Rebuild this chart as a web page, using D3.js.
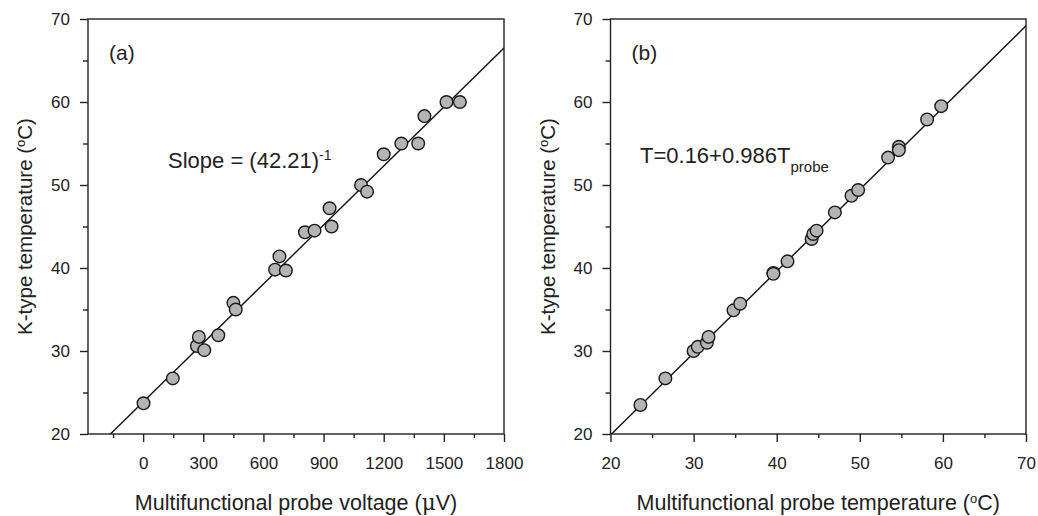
<!DOCTYPE html>
<html>
<head>
<meta charset="utf-8">
<script src="https://cdn.jsdelivr.net/npm/d3@7"></script>
<style>
  body { margin: 0; background: #fff; }
  svg { font-family: "Liberation Sans", Arial, sans-serif; }
  .axis path, .axis line { stroke: #222; stroke-width: 1.4; }
  .axis text { font-size: 17px; fill: #222; }
</style>
</head>
<body>
<div class="chart"></div>
<script>
// panel (a): probe voltage (uV) vs K-type temperature
const voltA = [2, 148, 268, 278, 305, 375, 450, 462, 658, 680, 712, 807, 855, 930, 940,
  1087, 1117, 1200, 1288, 1372, 1403, 1513, 1580];
const tempA = [23.7, 26.7, 30.6, 31.7, 30.1, 31.9, 35.8, 35.0, 39.8, 41.4, 39.7, 44.3, 44.5, 47.2, 45.0,
  50.0, 49.2, 53.7, 55.0, 55.0, 58.3, 60.0, 60.0];
const slopeA = 1 / 42.21;
const interceptA = 23.86;

// panel (b): probe temperature vs K-type temperature
const probeB = [23.6, 26.6, 30.0, 30.5, 31.6, 31.8, 34.8, 35.6, 39.6, 39.6, 41.3, 44.2, 44.4, 44.8,
  47.0, 49.0, 49.8, 53.4, 54.7, 54.7, 58.1, 59.8];
const tempB = [23.5, 26.7, 30.0, 30.5, 31.0, 31.7, 34.9, 35.7, 39.4, 39.3, 40.8, 43.5, 44.1, 44.5,
  46.7, 48.7, 49.4, 53.3, 54.6, 54.2, 57.9, 59.5];
const slopeB = 0.986;
const interceptB = 0.16;

const xTicksA = [0, 300, 600, 900, 1200, 1500, 1800];
const xMinorA = [-150, 150, 450, 750, 1050, 1350, 1650];
const xTicksB = [20, 30, 40, 50, 60, 70];
const xMinorB = [25, 35, 45, 55, 65];
const yTicks = [20, 30, 40, 50, 60, 70];
const yMinor = [25, 35, 45, 55, 65];

const svg = d3.select(".chart").append("svg").attr("width", 1038).attr("height", 516);

const plotTop = 19, plotBottom = 434;
const yScale = d3.scaleLinear().domain([20, 70]).range([plotBottom, plotTop]);

function drawPanel(opts) {
  const x = opts.x;
  const [x0, x1] = x.range();
  const g = svg.append("g");

  // clip for fit line
  g.append("clipPath").attr("id", "clip-" + opts.id)
    .append("rect").attr("x", x0).attr("y", plotTop).attr("width", x1 - x0).attr("height", plotBottom - plotTop);

  // minor ticks
  g.append("g").attr("class", "axis").attr("transform", `translate(0,${plotBottom})`)
    .call(d3.axisBottom(x).tickValues(opts.xMinor).tickSize(4).tickFormat(""))
    .call((s) => s.select(".domain").remove());
  g.append("g").attr("class", "axis").attr("transform", `translate(${x0},0)`)
    .call(d3.axisLeft(yScale).tickValues(yMinor).tickSize(5).tickFormat(""))
    .call((s) => s.select(".domain").remove());

  // major axes
  g.append("g").attr("class", "axis").attr("transform", `translate(0,${plotBottom})`)
    .call(d3.axisBottom(x).tickValues(opts.xTicks).tickFormat(d3.format("d"))
      .tickSizeInner(8).tickSizeOuter(0).tickPadding(15))
    .call((s) => s.select(".domain").remove());
  g.append("g").attr("class", "axis").attr("transform", `translate(${x0},0)`)
    .call(d3.axisLeft(yScale).tickValues(yTicks).tickSizeInner(8).tickSizeOuter(0).tickPadding(10))
    .call((s) => s.select(".domain").remove());

  // frame
  g.append("rect").attr("x", x0).attr("y", plotTop).attr("width", x1 - x0).attr("height", plotBottom - plotTop)
    .attr("fill", "none").attr("stroke", "#222").attr("stroke-width", 1.4);

  // fit line
  const d0 = x.domain()[0], d1 = x.domain()[1];
  g.append("line")
    .attr("clip-path", `url(#clip-${opts.id})`)
    .attr("x1", x(d0)).attr("y1", yScale(opts.intercept + opts.slope * d0))
    .attr("x2", x(d1)).attr("y2", yScale(opts.intercept + opts.slope * d1))
    .attr("stroke", "#111").attr("stroke-width", 1.4);

  // points
  g.selectAll("circle").data(opts.xs).enter().append("circle")
    .attr("cx", (d) => x(d))
    .attr("cy", (d, i) => yScale(opts.ys[i]))
    .attr("r", 6.3)
    .attr("fill", "#b4b4b4")
    .attr("stroke", "#1a1a1a")
    .attr("stroke-width", 1.4);

  // panel letter
  g.append("text").attr("x", x0 + 21).attr("y", 60).attr("font-size", 21).attr("fill", "#222").text(opts.letter);

  // x title
  const xt = g.append("text").attr("x", (x0 + x1) / 2).attr("y", 510)
    .attr("text-anchor", "middle").attr("font-size", 21.5).attr("fill", "#222");
  opts.xTitle(xt);

  // y title
  const yt = g.append("text")
    .attr("transform", `translate(${x0 - 56},${(plotTop + plotBottom) / 2}) rotate(-90)`)
    .attr("text-anchor", "middle").attr("font-size", 20.5).attr("fill", "#222");
  yt.append("tspan").text("K-type temperature (");
  yt.append("tspan").attr("baseline-shift", "super").attr("font-size", 13).text("o");
  yt.append("tspan").text("C)");

  return g;
}

const xA = d3.scaleLinear().domain([-275, 1800]).range([88, 504]);
const gA = drawPanel({
  id: "a", x: xA, xTicks: xTicksA, xMinor: xMinorA, xs: voltA, ys: tempA,
  slope: slopeA, intercept: interceptA, letter: "(a)",
  xTitle: (t) => {
    t.append("tspan").text("Multifunctional probe voltage (");
    t.append("tspan").attr("font-family", "DejaVu Serif, serif").text("\u03bc");
    t.append("tspan").text("V)");
  }
});
const sa = gA.append("text").attr("x", 168).attr("y", 168).attr("font-size", 22).attr("fill", "#222");
sa.append("tspan").text("Slope = (42.21)");
sa.append("tspan").attr("baseline-shift", "super").attr("font-size", 14).text("-1");

const xB = d3.scaleLinear().domain([20, 70]).range([610.5, 1026]);
const gB = drawPanel({
  id: "b", x: xB, xTicks: xTicksB, xMinor: xMinorB, xs: probeB, ys: tempB,
  slope: slopeB, intercept: interceptB, letter: "(b)",
  xTitle: (t) => {
    t.append("tspan").text("Multifunctional probe temperature (");
    t.append("tspan").attr("baseline-shift", "super").attr("font-size", 13).text("o");
    t.append("tspan").text("C)");
  }
});
const sb = gB.append("text").attr("x", 640).attr("y", 163).attr("font-size", 22).attr("fill", "#222");
sb.append("tspan").text("T=0.16+0.986T");
sb.append("tspan").attr("baseline-shift", "sub").attr("font-size", 15).text("probe");
</script>
</body>
</html>
